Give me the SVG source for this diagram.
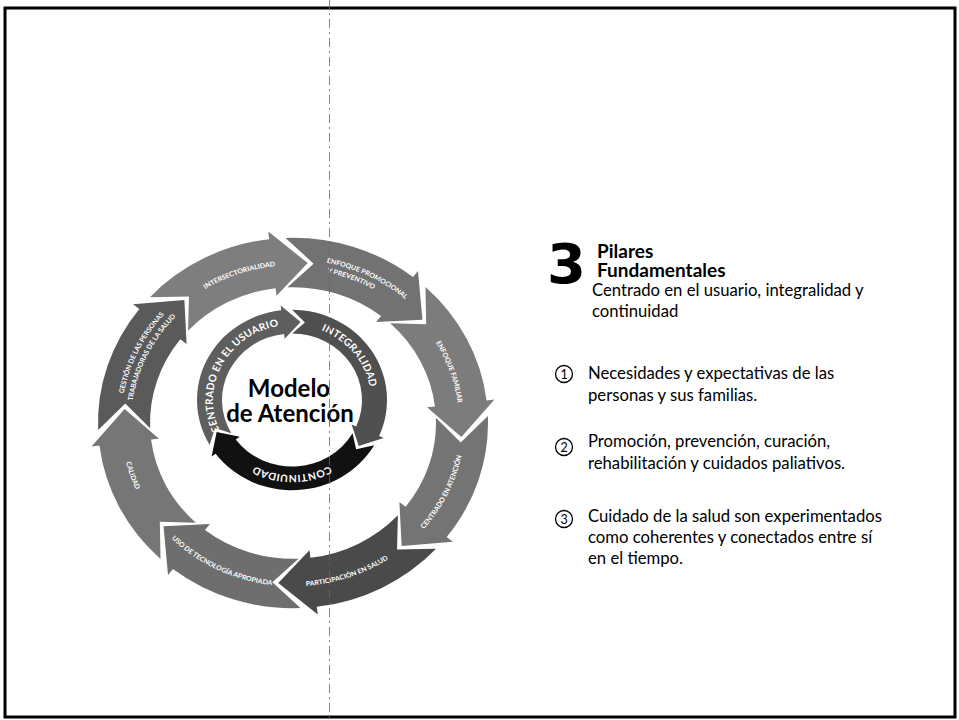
<svg xmlns="http://www.w3.org/2000/svg" width="959" height="720" viewBox="0 0 959 720">
<style>
.lbl{font-family:Lato,"Liberation Sans",sans-serif;font-weight:700;font-size:7px;fill:#fff;text-anchor:middle}
.ilbl{font-family:Lato,"Liberation Sans",sans-serif;font-weight:700;font-size:10.5px;fill:#fff;text-anchor:middle;letter-spacing:0.3px}
.ctr{font-family:Lato,"Liberation Sans",sans-serif;font-weight:700;font-size:24px;fill:#000;text-anchor:middle}
.hd{font-family:Lato,"Liberation Sans",sans-serif;font-weight:700;font-size:19px;fill:#000}
.tx{font-family:Lato,"Liberation Sans",sans-serif;font-size:16.7px;fill:#000}
.num{fill:none;stroke:#000;stroke-width:1.3}
.dig{font-family:Lato,"Liberation Sans",sans-serif;font-size:12.5px;fill:#000;text-anchor:middle}
</style>
<defs>
<path id="oArrow" d="M-154.07,-119.52 A195,195 0 0 1 -40.54,-190.74 L-42.21,-198.56 L0,-169 L-28.07,-132.05 L-29.73,-139.88 A143,143 0 0 0 -112.98,-87.64 L-115.26,-123.6 Z"/>
<path id="iArrow" d="M-76.95,55.71 A95,95 0 0 1 -20.56,-92.75 L-21.64,-97.63 L0,-82.5 L-14.07,-63.46 L-15.15,-68.34 A70,70 0 0 0 -56.7,41.05 L-73.51,37.46 Z"/>
<path id="cw166" d="M-125.28,-108.91 A166,166 0 0 1 2.9,-165.98"/>
<path id="cw172" d="M-129.81,-112.84 A172,172 0 0 1 3,-171.97"/>
<path id="cw162" d="M-122.26,-106.28 A162,162 0 0 1 2.83,-161.98"/>
<path id="ccw172" d="M3,-171.97 A172,172 0 0 0 -129.81,-112.84"/>
<path id="iCentrado" d="M-70.39,35.87 A79,79 0 0 1 -9.63,-78.41"/>
<path id="iIntegral" d="M8.26,-78.57 A79,79 0 0 1 78.57,8.26"/>
<path id="iContinuidad" d="M64.71,45.31 A79,79 0 0 1 -64.71,45.31"/>
</defs>
<rect x="0" y="0" width="959" height="720" fill="#fff"/>
<rect x="5" y="8" width="950" height="709" fill="none" stroke="#000" stroke-width="3"/>

<g id="outer-ring">
<g id="intersectorialidad" transform="translate(293 423) scale(1 0.95) rotate(5)">
<use href="#oArrow" fill="#7e7e7e"/>
<text class="lbl"><textPath href="#cw166" startOffset="50%">INTERSECTORIALIDAD</textPath></text>
</g>
<g id="enfoque-promocional" transform="translate(293 423) scale(1 0.95) rotate(50)">
<use href="#oArrow" fill="#727272"/>
<text class="lbl"><textPath href="#cw172" startOffset="50%">ENFOQUE PROMOCIONAL</textPath></text>
<text class="lbl"><textPath href="#cw162" startOffset="40%">Y PREVENTIVO</textPath></text>
</g>
<g id="enfoque-familiar" transform="translate(293 423) scale(1 0.95) rotate(95)">
<use href="#oArrow" fill="#7c7c7c"/>
<text class="lbl"><textPath href="#cw166" startOffset="50%">ENFOQUE FAMILIAR</textPath></text>
</g>
<g id="centrado-atencion" transform="translate(293 423) scale(1 0.95) rotate(140)">
<use href="#oArrow" fill="#747474"/>
<text class="lbl"><textPath href="#ccw172" startOffset="50%">CENTRADO EN ATENCIÓN</textPath></text>
</g>
<g id="participacion" transform="translate(293 423) scale(1 0.95) rotate(185)">
<use href="#oArrow" fill="#4a4a4a"/>
<text class="lbl"><textPath href="#ccw172" startOffset="50%">PARTICIPACIÓN EN SALUD</textPath></text>
</g>
<g id="tecnologia" transform="translate(293 423) scale(1 0.95) rotate(230)">
<use href="#oArrow" fill="#6e6e6e"/>
<text class="lbl"><textPath href="#ccw172" startOffset="50%">USO DE TECNOLOGÍA APROPIADA</textPath></text>
</g>
<g id="calidad" transform="translate(293 423) scale(1 0.95) rotate(275)">
<use href="#oArrow" fill="#767676"/>
<text class="lbl"><textPath href="#ccw172" startOffset="50%">CALIDAD</textPath></text>
</g>
<g id="gestion" transform="translate(293 423) scale(1 0.95) rotate(320)">
<use href="#oArrow" fill="#5a5a5a"/>
<text class="lbl"><textPath href="#cw172" startOffset="50%">GESTIÓN DE LAS PERSONAS</textPath></text>
<text class="lbl"><textPath href="#cw162" startOffset="50%">TRABAJADORAS DE LA SALUD</textPath></text>
</g>
</g>

<g id="inner-ring">
<g id="centrado-usuario" transform="translate(292 400) scale(1 0.95)">
<use href="#iArrow" transform="rotate(6)" fill="#5e5e5e"/>
<text class="ilbl"><textPath href="#iCentrado" startOffset="50%">CENTRADO EN EL USUARIO</textPath></text>
</g>
<g id="integralidad" transform="translate(292 400) scale(1 0.95)">
<use href="#iArrow" transform="rotate(126)" fill="#505050"/>
<text class="ilbl"><textPath href="#iIntegral" startOffset="50%">INTEGRALIDAD</textPath></text>
</g>
<g id="continuidad" transform="translate(292 400) scale(1 0.95)">
<use href="#iArrow" transform="rotate(246)" fill="#111"/>
<text class="ilbl"><textPath href="#iContinuidad" startOffset="50%">CONTINUIDAD</textPath></text>
</g>
</g>

<g id="center-title">
<text class="ctr" x="289" y="397">Modelo</text>
<text class="ctr" x="290" y="422">de Atención</text>
</g>

<line x1="329.5" y1="0" x2="329.5" y2="720" stroke="#666" stroke-width="0.8" stroke-dasharray="9 4 2 4"/>

<g id="header">
<text x="547" y="283" font-family="'DejaVu Sans', sans-serif" font-weight="700" font-size="56">3</text>
<text class="hd" x="597" y="258">Pilares</text>
<text class="hd" x="597" y="277">Fundamentales</text>
<text class="tx" x="592" y="296">Centrado en el usuario, integralidad y</text>
<text class="tx" x="592" y="317">continuidad</text>
</g>

<g id="item1">
<circle class="num" cx="564" cy="374" r="8.5"/>
<text class="dig" x="564" y="378.5">1</text>
<text class="tx" x="588" y="379">Necesidades y expectativas de las</text>
<text class="tx" x="588" y="401">personas y sus familias.</text>
</g>
<g id="item2">
<circle class="num" cx="564" cy="447" r="8.5"/>
<text class="dig" x="564" y="451.5">2</text>
<text class="tx" x="588" y="447">Promoción, prevención, curación,</text>
<text class="tx" x="588" y="469">rehabilitación y cuidados paliativos.</text>
</g>
<g id="item3">
<circle class="num" cx="564" cy="519" r="8.5"/>
<text class="dig" x="564" y="523.5">3</text>
<text class="tx" x="588" y="522">Cuidado de la salud son experimentados</text>
<text class="tx" x="588" y="543">como coherentes y conectados entre sí</text>
<text class="tx" x="588" y="564">en el tiempo.</text>
</g>
</svg>
